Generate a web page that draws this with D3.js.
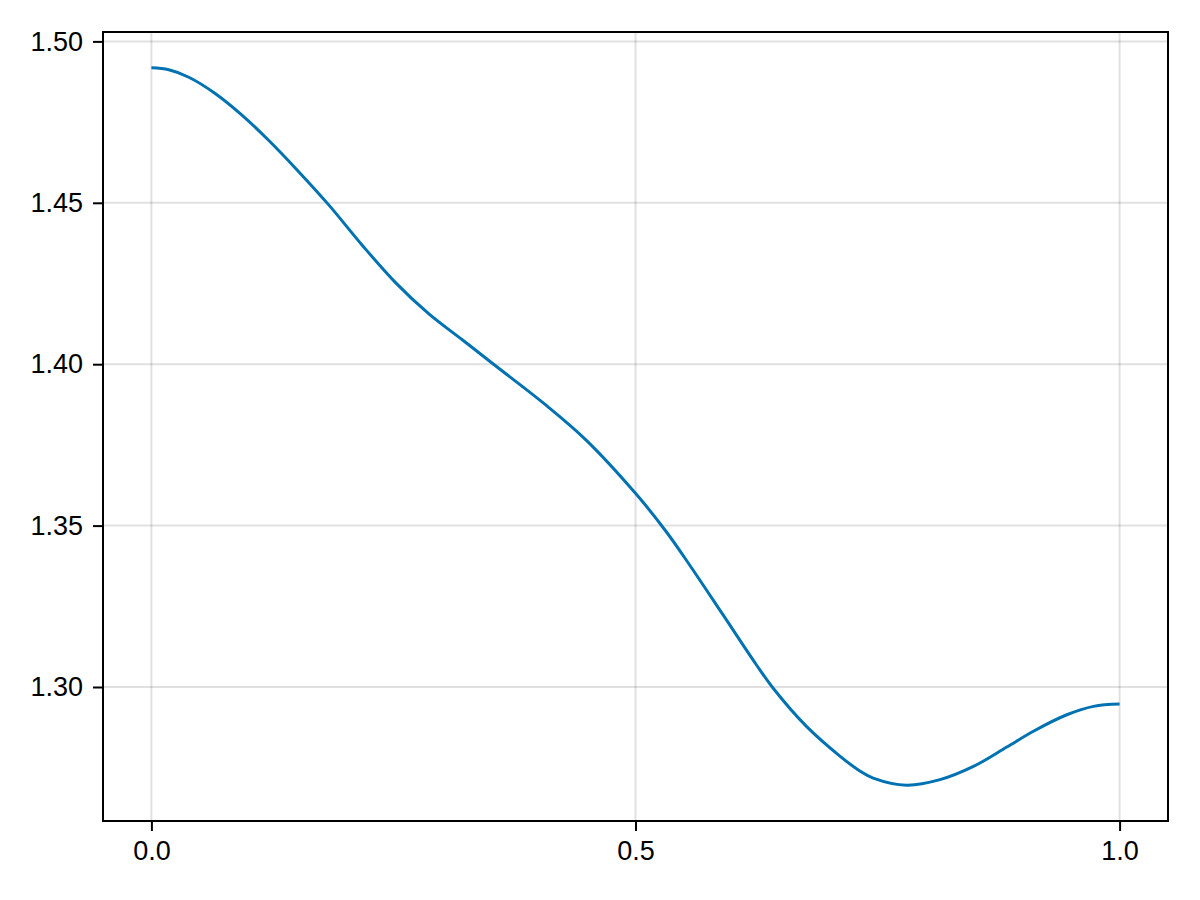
<!DOCTYPE html>
<html>
<head>
<meta charset="utf-8">
<script src="https://cdn.jsdelivr.net/npm/d3@7"></script>
<style>
  html, body { margin: 0; padding: 0; background: #fff; }
  svg { display: block; }
  text { font-family: "Liberation Sans", Arial, sans-serif; }
</style>
</head>
<body>
<svg id="chart" width="1200" height="900"></svg>
<script>
const xValues = [0, 0.0179, 0.0386, 0.0662, 0.0938, 0.1213, 0.1507, 0.1836, 0.2179, 0.2524, 0.2869, 0.3214, 0.3524, 0.4076, 0.449, 0.5, 0.5318, 0.5559, 0.5903, 0.6248, 0.642, 0.6766, 0.7111, 0.7317, 0.7455, 0.78, 0.8145, 0.849, 0.8835, 0.911, 0.9455, 0.9731, 1.0];
const yValues = [1.4918, 1.4912, 1.4889, 1.4838, 1.4771, 1.4693, 1.4601, 1.4492, 1.4368, 1.4252, 1.4155, 1.4075, 1.4002, 1.3873, 1.3765, 1.3600, 1.3481, 1.3378, 1.3224, 1.3069, 1.2997, 1.2878, 1.2786, 1.2740, 1.2718, 1.2696, 1.2713, 1.2754, 1.2814, 1.2863, 1.2914, 1.2940, 1.2947];
const xTicks = [0.0, 0.5, 1.0];
const yTicks = [1.30, 1.35, 1.40, 1.45, 1.50];

const margin = { left: 103, right: 32, top: 32, bottom: 79 };
const W = 1200, H = 900;
const iw = W - margin.left - margin.right;
const ih = H - margin.top - margin.bottom;

const svg = d3.select("#chart");
const g = svg.append("g").attr("transform", `translate(${margin.left},${margin.top})`);

const [x0, x1] = d3.extent(xValues);
const [y0, y1] = d3.extent(yValues);
const px = (x1 - x0) * 0.05, py = (y1 - y0) * 0.05;

const x = d3.scaleLinear().domain([x0 - px, x1 + px]).range([0, iw]);
const y = d3.scaleLinear().domain([y0 - py, y1 + py]).range([ih, 0]);

// grid
g.append("g").selectAll("line").data(xTicks).join("line")
  .attr("x1", d => x(d)).attr("x2", d => x(d)).attr("y1", 0).attr("y2", ih)
  .attr("stroke", "rgba(0,0,0,0.12)").attr("stroke-width", 2);
g.append("g").selectAll("line").data(yTicks).join("line")
  .attr("y1", d => y(d)).attr("y2", d => y(d)).attr("x1", 0).attr("x2", iw)
  .attr("stroke", "rgba(0,0,0,0.12)").attr("stroke-width", 2);

// line
const data = xValues.map((v, i) => [v, yValues[i]]);
g.append("path").datum(data)
  .attr("fill", "none").attr("stroke", "#0072b2").attr("stroke-width", 3)
  .attr("stroke-linejoin", "round")
  .attr("d", d3.line().x(d => x(d[0])).y(d => y(d[1])).curve(d3.curveCatmullRom.alpha(0.5)));

// frame
g.append("rect").attr("x", 0).attr("y", 0).attr("width", iw).attr("height", ih)
  .attr("fill", "none").attr("stroke", "#000").attr("stroke-width", 2);

// axes
const xAxis = d3.axisBottom(x).tickValues(xTicks).tickFormat(d3.format(".1f")).tickSize(10).tickPadding(10);
const gx = g.append("g").attr("transform", `translate(0,${ih})`).call(xAxis);
gx.select(".domain").remove();
gx.selectAll(".tick line").attr("stroke", "#000").attr("stroke-width", 2);
gx.selectAll("text").attr("font-size", 27).attr("fill", "#000")
  .attr("font-family", "'Liberation Sans', Arial, sans-serif");

const yAxis = d3.axisLeft(y).tickValues(yTicks).tickFormat(d3.format(".2f")).tickSize(10).tickPadding(10);
const gy = g.append("g").call(yAxis);
gy.select(".domain").remove();
gy.selectAll(".tick line").attr("stroke", "#000").attr("stroke-width", 2);
gy.selectAll("text").attr("font-size", 27).attr("fill", "#000")
  .attr("font-family", "'Liberation Sans', Arial, sans-serif");
</script>
</body>
</html>
